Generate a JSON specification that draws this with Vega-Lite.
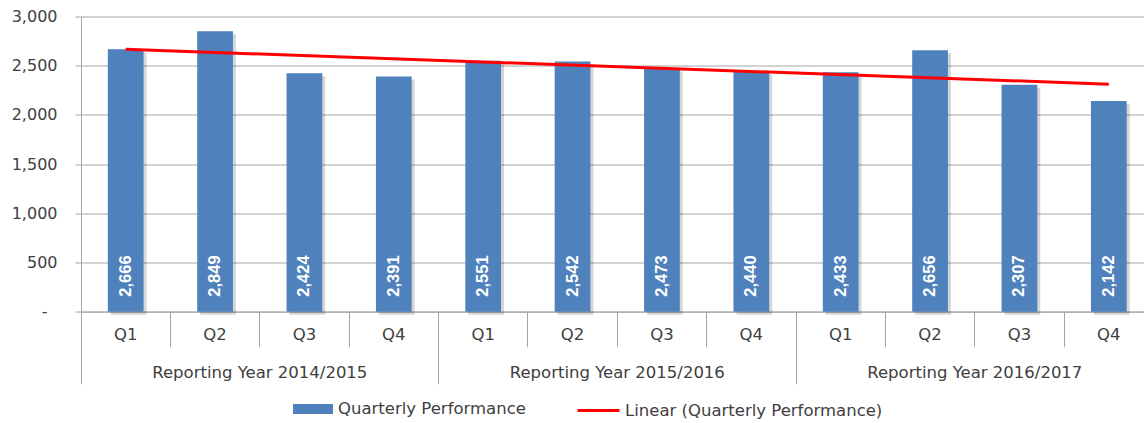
{
  "$schema": "https://vega.github.io/schema/vega-lite/v6.json",
  "autosize": {"type": "none"},
  "padding": {"left": 81, "top": 16.5, "right": 0, "bottom": 111.3},
  "width": 1063,
  "height": 295.2,
  "background": "white",
  "config": {
    "view": {"stroke": null},
    "font": "DejaVu Sans",
    "axisY": {
      "title": null,
      "values": [0, 500, 1000, 1500, 2000, 2500, 3000],
      "labelExpr": "datum.value === 0 ? '-' : format(datum.value, ',')",
      "labelFont": "DejaVu Sans", "labelFontSize": 16, "labelColor": "#404040",
      "labelPadding": {"condition": {"test": "datum.value === 0", "value": 28}, "value": 18},
      "tickSize": 6, "tickColor": "#A6A6A6",
      "grid": true, "gridColor": "#A6A6A6", "gridWidth": 1,
      "domain": true, "domainColor": "#A6A6A6"
    }
  },
  "datasets": {
    "q": [
      {"period": "Reporting Year 2014/2015|Q1", "i": 1, "value": 2666},
      {"period": "Reporting Year 2014/2015|Q2", "i": 2, "value": 2849},
      {"period": "Reporting Year 2014/2015|Q3", "i": 3, "value": 2424},
      {"period": "Reporting Year 2014/2015|Q4", "i": 4, "value": 2391},
      {"period": "Reporting Year 2015/2016|Q1", "i": 5, "value": 2551},
      {"period": "Reporting Year 2015/2016|Q2", "i": 6, "value": 2542},
      {"period": "Reporting Year 2015/2016|Q3", "i": 7, "value": 2473},
      {"period": "Reporting Year 2015/2016|Q4", "i": 8, "value": 2440},
      {"period": "Reporting Year 2016/2017|Q1", "i": 9, "value": 2433},
      {"period": "Reporting Year 2016/2017|Q2", "i": 10, "value": 2656},
      {"period": "Reporting Year 2016/2017|Q3", "i": 11, "value": 2307},
      {"period": "Reporting Year 2016/2017|Q4", "i": 12, "value": 2142}
    ]
  },
  "resolve": {"axis": {"x": "independent", "y": "shared"}},
  "layer": [
    {
      "data": {"name": "q"},
      "mark": {"type": "bar", "fill": "#000000", "opacity": 0.16, "xOffset": 3, "yOffset": 3},
      "encoding": {
        "x": {"field": "period", "type": "nominal", "scale": {"type": "band", "paddingInner": 0.6, "paddingOuter": 0.3, "range": [0, 1072.5]}, "axis": null},
        "y": {"field": "value", "type": "quantitative", "scale": {"domain": [0, 3000], "nice": false}, "title": null}
      }
    },
    {
      "data": {"name": "q"},
      "mark": {"type": "bar"},
      "encoding": {
        "x": {
          "field": "period", "type": "nominal",
          "scale": {"type": "band", "paddingInner": 0.6, "paddingOuter": 0.3, "range": [0, 1072.5]},
          "axis": {
            "orient": "bottom",
            "title": null, "labelAngle": 0,
            "labelExpr": "split(datum.label, '|')[1]",
            "labelFont": "DejaVu Sans", "labelFontSize": 16.5, "labelColor": "#404040",
            "bandPosition": -0.75, "tickSize": 35, "tickColor": "#A6A6A6", "tickWidth": 1,
            "labelPadding": -20.5,
            "domain": true, "domainColor": "#A6A6A6", "domainWidth": 1,
            "grid": false
          }
        },
        "y": {"field": "value", "type": "quantitative", "scale": {"domain": [0, 3000], "nice": false}, "title": null},
        "fill": {
          "datum": "Quarterly Performance",
          "scale": {"range": ["#4F81BD"]},
          "legend": {
            "orient": "none", "legendX": 212, "legendY": 372.5, "padding": 0,
            "title": null,
            "symbolType": "M-1,-0.25H1V0.25H-1Z", "symbolSize": 1600, "symbolStrokeWidth": 0,
            "labelFont": "DejaVu Sans", "labelFontSize": 16.5, "labelColor": "#404040", "labelOffset": 5, "labelLimit": 400
          }
        }
      }
    },
    {
      "data": {"name": "q"},
      "mark": {"type": "text", "angle": 270, "align": "left", "baseline": "middle", "dx": 15, "font": "Liberation Sans", "fontWeight": "bold", "fontSize": 16.5, "color": "white"},
      "encoding": {
        "x": {
          "field": "period", "type": "nominal",
          "scale": {"type": "band", "paddingInner": 0.6, "paddingOuter": 0.3, "range": [0, 1072.5]},
          "axis": {
            "orient": "bottom",
            "title": null, "labelAngle": 0,
            "values": ["Reporting Year 2014/2015|Q1", "Reporting Year 2015/2016|Q1", "Reporting Year 2016/2017|Q1"],
            "labelExpr": "split(datum.label, '|')[0]",
            "labelFont": "DejaVu Sans", "labelFontSize": 16.5, "labelColor": "#404040", "labelLimit": 400,
            "bandPosition": -0.75, "tickSize": 72, "tickColor": "#A6A6A6", "tickWidth": 1,
            "labelOffset": 134.1, "labelPadding": -19,
            "domain": false, "grid": false
          }
        },
        "y": {"datum": 0, "type": "quantitative", "scale": {"domain": [0, 3000], "nice": false}, "title": null},
        "text": {"field": "value", "type": "quantitative", "format": ","}
      }
    },
    {
      "data": {"name": "q"},
      "transform": [
        {"regression": "value", "on": "i", "method": "linear", "extent": [1, 12]},
        {"lookup": "i", "from": {"data": {"name": "q"}, "key": "i", "fields": ["period"]}}
      ],
      "mark": {"type": "line", "strokeWidth": 3},
      "encoding": {
        "x": {"field": "period", "type": "nominal", "scale": {"type": "band", "paddingInner": 0.6, "paddingOuter": 0.3, "range": [0, 1072.5]}, "axis": null},
        "y": {"field": "value", "type": "quantitative", "scale": {"domain": [0, 3000], "nice": false}, "title": null},
        "stroke": {
          "datum": "Linear (Quarterly Performance)",
          "scale": {"range": ["#FF0000"]},
          "legend": {
            "orient": "none", "legendX": 495, "legendY": 371.5, "padding": 0,
            "title": null,
            "symbolType": "stroke", "symbolSize": 1764, "symbolStrokeWidth": 3,
            "labelFont": "DejaVu Sans", "labelFontSize": 16.5, "labelColor": "#404040", "labelOffset": 4, "labelLimit": 400
          }
        }
      }
    }
  ]
}
